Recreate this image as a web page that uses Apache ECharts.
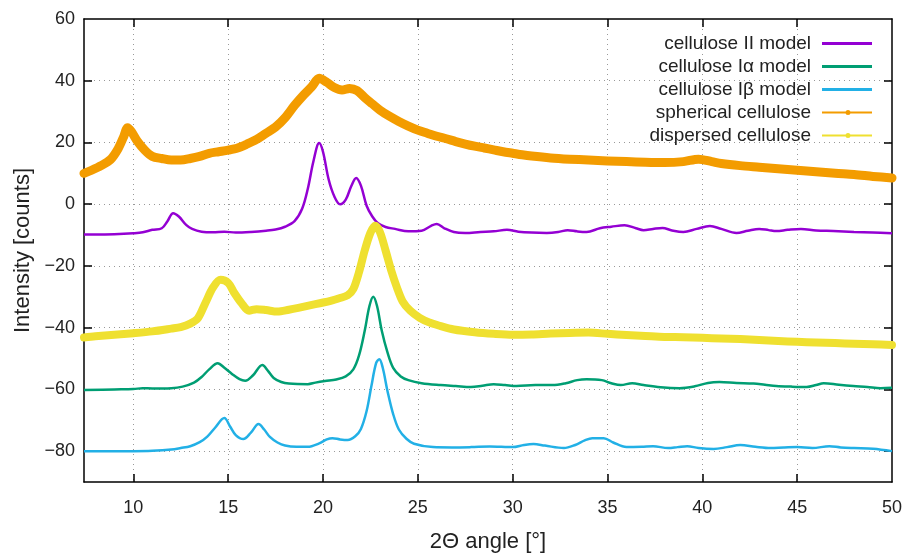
<!DOCTYPE html>
<html>
<head>
<meta charset="utf-8">
<script src="https://cdn.jsdelivr.net/npm/echarts@6/dist/echarts.min.js"></script>
<style>
html,body{margin:0;padding:0;background:#fff;}
#chart{width:907px;height:553px;}
</style>
</head>
<body>
<div id="chart"></div>
<script>
// ---- tick values ----
const xTicks = [10, 15, 20, 25, 30, 35, 40, 45, 50];
const yTicks = [-80, -60, -40, -20, 0, 20, 40, 60];
const xGrid = [10, 15, 20, 25, 30, 35, 40, 45];
const yGrid = [-80, -60, -40, -20, 0, 20, 40];

// ---- series names ----
const seriesNames = ['cellulose II model', 'cellulose Iα model', 'cellulose Iβ model', 'spherical cellulose', 'dispersed cellulose'];

// ---- series values [2θ, intensity] ----
const celluloseII = [[7.4,-9.8],[8,-9.8],[9,-9.7],[10,-9.4],[10.5,-9.1],[11,-8.3],[11.5,-7.8],[11.8,-5.5],[12.1,-2.9],[12.4,-4],[12.8,-6.8],[13.1,-8],[13.6,-8.9],[14.2,-9.1],[14.8,-8.9],[15.4,-9.2],[16.2,-9],[17,-8.6],[17.5,-8.2],[18,-7.3],[18.5,-5.5],[18.9,-1.5],[19.2,5],[19.5,14],[19.8,19.8],[20.0,17],[20.3,8],[20.6,2.5],[20.9,0],[21.2,1.5],[21.5,6],[21.75,8.5],[22.0,6],[22.3,-0.5],[22.6,-4],[22.9,-6.2],[23.3,-7.4],[23.8,-8],[24.5,-8.8],[25.2,-8.6],[25.7,-7],[26.0,-6.4],[26.4,-7.8],[26.9,-9],[27.5,-9.3],[28.3,-9],[29.0,-8.8],[29.7,-8.3],[30.3,-8.9],[31,-9.2],[31.8,-9.3],[32.4,-9],[32.9,-8.4],[33.4,-8.8],[33.9,-9],[34.6,-7.8],[35.2,-7.3],[35.9,-6.8],[36.5,-7.8],[36.9,-8.4],[37.4,-8],[37.9,-7.7],[38.4,-8.5],[39,-9],[39.7,-8],[40.4,-7.1],[41,-8],[41.8,-9.3],[42.4,-8.6],[43,-8],[43.5,-8.4],[43.9,-8.7],[44.5,-8.3],[45.2,-8],[46,-8.5],[46.9,-8.7],[48,-9],[49,-9.2],[50,-9.4]];

const celluloseIa = [[7.4,-60.2],[9,-60],[10,-59.9],[10.5,-59.6],[11,-59.7],[12,-59.6],[12.6,-59.1],[13.2,-57.8],[13.6,-56],[14,-53.5],[14.45,-51.5],[14.8,-53],[15.2,-55],[15.6,-56.7],[15.9,-57.2],[16.3,-55.5],[16.8,-52.1],[17.1,-54],[17.4,-56.3],[17.8,-57.6],[18.2,-58.1],[19.2,-58.3],[19.6,-57.8],[20.1,-57.3],[20.7,-56.8],[21.2,-55.8],[21.6,-53.5],[21.9,-49],[22.2,-41],[22.45,-33],[22.65,-30],[22.85,-33],[23.1,-41],[23.4,-48],[23.7,-53],[24.1,-55.8],[24.5,-57],[25.2,-58],[26.2,-58.6],[27,-58.9],[27.8,-59.2],[28.4,-58.8],[29,-58.3],[29.6,-58.6],[30.2,-58.9],[31.2,-58.6],[32.1,-58.6],[32.8,-58],[33.4,-57],[33.9,-56.7],[34.7,-57],[35.2,-58],[35.7,-58.6],[36.3,-58],[36.9,-58.6],[37.8,-59.3],[38.8,-59.6],[39.6,-59],[40.3,-57.9],[40.9,-57.6],[41.8,-57.9],[42.7,-58.1],[43.3,-58.5],[43.9,-58.9],[44.7,-59.1],[45.5,-59.2],[46,-58.6],[46.4,-58],[47.2,-58.5],[47.96,-58.9],[48.7,-59.2],[49.4,-59.6],[50,-59.5]];

const celluloseIb = [[7.4,-80],[9,-80],[10,-80],[11,-79.9],[12,-79.5],[12.5,-79],[13,-78.4],[13.5,-77.1],[13.9,-75.3],[14.3,-72.5],[14.8,-69.3],[15.1,-72],[15.4,-74.8],[15.8,-76.1],[16.2,-74],[16.6,-71.2],[16.9,-73],[17.2,-75.4],[17.6,-77.2],[18,-78.2],[18.6,-78.6],[19.2,-78.6],[19.8,-77.5],[20.2,-76.2],[20.5,-75.8],[20.9,-76.2],[21.3,-76.4],[21.7,-75.2],[22.0,-72.8],[22.3,-67],[22.55,-59],[22.8,-51.5],[22.97,-50.2],[23.15,-53],[23.4,-60.5],[23.7,-68],[24.0,-73],[24.4,-76],[24.8,-77.6],[25.8,-78.7],[26.8,-78.8],[27.8,-78.7],[28.8,-78.5],[29.4,-78.6],[30,-78.7],[30.6,-78],[31.1,-77.7],[31.7,-78.2],[32.7,-79],[33.3,-78],[33.8,-76.5],[34.2,-75.8],[34.8,-75.8],[35.3,-77.2],[36,-78.7],[36.8,-78.6],[37.4,-78.4],[38.2,-79],[38.7,-78.7],[39.2,-78.4],[39.8,-79],[40.6,-79.3],[41.3,-78.7],[42,-78],[42.8,-78.6],[43.6,-79],[44.3,-78.8],[45,-78.7],[45.8,-79],[46.7,-78.4],[47.3,-78.8],[48,-79],[49,-79.2],[50,-80]];

const spherical = [[7.4,10],[7.8,11],[8.3,12.5],[8.8,14.5],[9.2,18],[9.5,22],[9.7,24.8],[9.9,23.5],[10.2,20.5],[10.6,17.5],[11.0,15.5],[11.5,14.8],[12,14.3],[12.5,14.3],[13,14.8],[13.5,15.5],[14,16.5],[14.5,17],[15,17.5],[15.5,18.2],[16,19.5],[16.5,21],[17,23],[17.5,25],[18,28],[18.5,32],[19,35.5],[19.4,38],[19.8,40.8],[20.2,39.5],[20.6,37.8],[21,37],[21.4,37.5],[21.8,36.8],[22.2,34.5],[22.6,32.5],[23,30.5],[23.5,28.5],[24,26.8],[24.5,25.3],[25,24],[25.5,23],[26,22],[26.5,21.2],[27,20.3],[27.5,19.5],[28,18.8],[28.5,18.2],[29,17.6],[29.5,17],[30,16.5],[30.5,16],[31,15.6],[32,15],[33,14.6],[34,14.3],[35,14],[36,13.8],[37,13.6],[38,13.5],[39,13.8],[39.8,14.6],[40.5,13.8],[41,13.2],[42,12.5],[43,12],[44,11.5],[45,11],[46,10.5],[47,10],[48,9.6],[49,9],[50,8.5]];

const dispersed = [[7.4,-43.2],[8,-42.8],[9,-42.3],[10,-41.8],[11,-41.2],[12,-40.3],[12.5,-39.8],[13,-38.7],[13.4,-37],[13.8,-32],[14.2,-27],[14.6,-24.5],[15.0,-25.5],[15.3,-28.5],[15.7,-32],[16.1,-34.5],[16.5,-34],[17,-34.3],[17.6,-34.8],[18.2,-34.2],[18.7,-33.6],[19.3,-32.8],[19.9,-32],[20.4,-31.3],[20.9,-30.4],[21.3,-29.5],[21.6,-27.5],[21.9,-22],[22.2,-15],[22.5,-9.3],[22.75,-7],[23.0,-9],[23.3,-15],[23.6,-21.5],[23.9,-27],[24.2,-31.5],[24.6,-34.5],[25.1,-36.8],[25.6,-38.3],[26.1,-39.3],[26.9,-40.6],[28,-41.5],[29,-42],[30,-42.3],[31,-42.2],[32,-41.9],[33,-41.7],[34,-41.6],[35,-42],[36,-42.4],[37,-42.7],[38,-43],[39,-43.1],[40,-43.3],[41,-43.5],[42,-43.7],[43,-44],[44,-44.3],[45,-44.6],[46,-44.8],[47,-45],[48,-45.2],[49,-45.4],[50,-45.6]];

const colors = ['#9400d3', '#009e73', '#22b0e6', '#f39c00', '#efe030'];

const lineIcon = 'path://M0,0L50,0L50,3L0,3Z';
const pointLineIcon = 'path://M0,5.1L50,5.1L50,6.9L0,6.9Z M23.5,6A2.5,2.5 0 1 1 28.5,6A2.5,2.5 0 1 1 23.5,6Z';

const chart = echarts.init(document.getElementById('chart'), null, {renderer: 'canvas'});
const font = 'Liberation Sans, Arial, sans-serif';

function axisCommon() {
  return {
    type: 'value',
    axisLine: {show: true, onZero: false, lineStyle: {color: '#000', width: 1.5}},
    axisTick: {show: true, inside: true, length: 8, lineStyle: {color: '#000', width: 1.5}},
  };
}

const option = {
  animation: false,
  backgroundColor: '#fff',
  color: colors,
  textStyle: {fontFamily: font},
  grid: {left: 84, right: 15, top: 19, bottom: 71, containLabel: false, outerBoundsMode: 'none'},
  legend: {
    orient: 'vertical',
    right: 30,
    top: 29,
    align: 'right',
    itemWidth: 50,
    itemHeight: 14,
    itemGap: 4,
    textStyle: {fontSize: 19, color: '#222', fontFamily: font, lineHeight: 19, padding: [0, 6, 0, 0]},
    data: [
      {name: seriesNames[0], icon: lineIcon},
      {name: seriesNames[1], icon: lineIcon},
      {name: seriesNames[2], icon: lineIcon},
      {name: seriesNames[3], icon: pointLineIcon},
      {name: seriesNames[4], icon: pointLineIcon}
    ]
  },
  xAxis: [
    Object.assign(axisCommon(), {
      min: 7.4, max: 50, position: 'bottom',
      axisTick: {show: true, inside: true, length: 8, customValues: xGrid, lineStyle: {color: '#000', width: 1.5}},
      axisLabel: {customValues: xTicks, fontSize: 18, color: '#222', margin: 17, fontFamily: font},
      splitLine: {show: true, lineStyle: {type: [1, 4], color: '#999', width: 1}},
      name: '2Θ angle [°]', nameLocation: 'middle', nameGap: 49,
      nameTextStyle: {fontSize: 22, color: '#222', fontFamily: font}
    }),
    Object.assign(axisCommon(), {
      min: 7.4, max: 50, position: 'top',
      axisTick: {show: true, inside: true, length: 8, customValues: xGrid, lineStyle: {color: '#000', width: 1.5}},
      axisLabel: {show: false},
      splitLine: {show: false}
    })
  ],
  yAxis: [
    Object.assign(axisCommon(), {
      min: -90, max: 60, position: 'left',
      axisTick: {show: true, inside: true, length: 8, customValues: yGrid, lineStyle: {color: '#000', width: 1.5}},
      axisLabel: {customValues: yTicks, fontSize: 18, color: '#222', margin: 9, fontFamily: font,
        formatter: function (v) { return v < 0 ? '\u2212' + Math.abs(v) : String(v); }},
      splitLine: {show: true, lineStyle: {type: [1, 4], color: '#999', width: 1}},
      name: 'Intensity [counts]', nameLocation: 'middle', nameGap: 44,
      nameTextStyle: {fontSize: 22, color: '#222', fontFamily: font}
    }),
    Object.assign(axisCommon(), {
      min: -90, max: 60, position: 'right',
      axisTick: {show: true, inside: true, length: 8, customValues: yGrid, lineStyle: {color: '#000', width: 1.5}},
      axisLabel: {show: false},
      splitLine: {show: false}
    })
  ],
  series: [
    {name: seriesNames[0], type: 'line', data: celluloseII, smooth: 0.35, symbol: 'none', lineStyle: {width: 2.5, color: colors[0]}, z: 2},
    {name: seriesNames[1], type: 'line', data: celluloseIa, smooth: 0.35, symbol: 'none', lineStyle: {width: 2.5, color: colors[1]}, z: 2},
    {name: seriesNames[2], type: 'line', data: celluloseIb, smooth: 0.35, symbol: 'none', lineStyle: {width: 2.5, color: colors[2]}, z: 2},
    {name: seriesNames[3], type: 'line', data: spherical, smooth: 0.3, symbol: 'none', lineStyle: {width: 9, color: colors[3], join: 'round', cap: 'round'}, z: 3},
    {name: seriesNames[4], type: 'line', data: dispersed, smooth: 0.3, symbol: 'none', lineStyle: {width: 8, color: colors[4], join: 'round', cap: 'round'}, z: 3}
  ]
};
chart.setOption(option);
</script>
</body>
</html>
